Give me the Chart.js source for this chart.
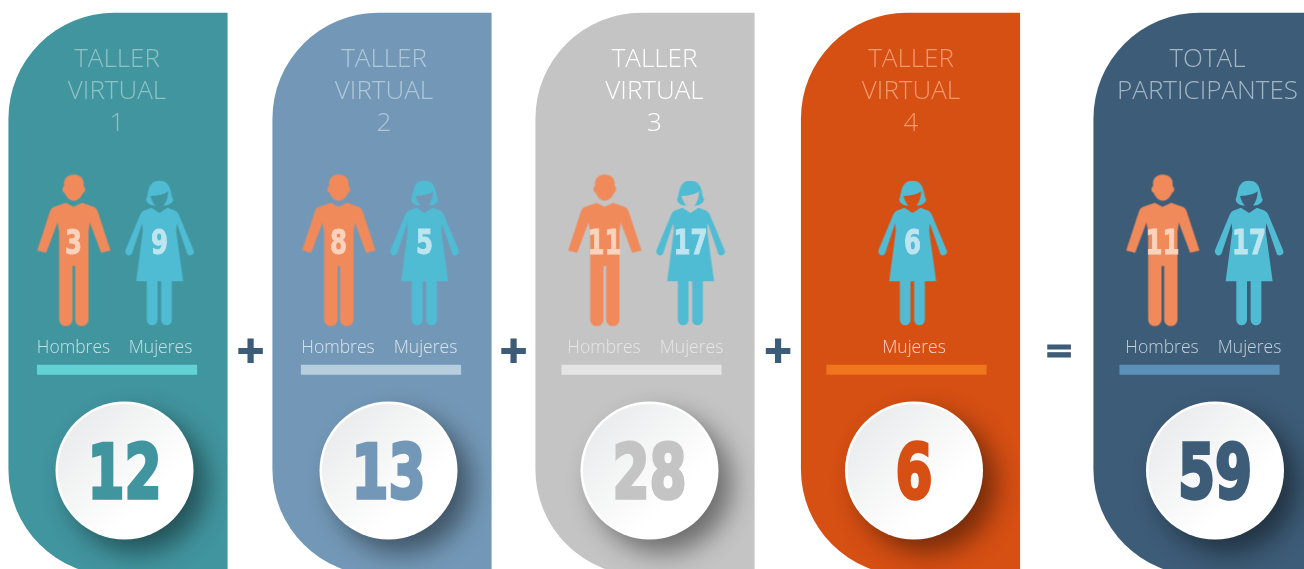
<!DOCTYPE html>
<html>
<head>
<meta charset="utf-8">
<title>Talleres virtuales</title>
<script src="https://cdn.jsdelivr.net/npm/chart.js@4"></script>
<style>
  html, body { margin: 0; padding: 0; background: #fff; }
  canvas { display: block; }
</style>
</head>
<body>
<canvas id="chart" width="1304" height="569"></canvas>
<script>
// DATA
const tituloLinea1 = ['TALLER', 'TALLER', 'TALLER', 'TALLER', 'TOTAL'];
const tituloLinea2 = ['VIRTUAL', 'VIRTUAL', 'VIRTUAL', 'VIRTUAL', 'PARTICIPANTES'];
const tituloLinea3 = ['1', '2', '3', '4', ''];
const hombres = [3, 8, 11, null, 11];
const mujeres = [9, 5, 17, 6, 17];
const totales = [12, 13, 28, 6, 59];
const operadores = ['+', '+', '+', '='];

// LAYOUT (x and y axes run in page pixels)
const panelX = [118, 382, 645, 910.5, 1203];
const tituloX = [117, 384, 654.5, 911, 1207.5];
const manX = [73.5, 338.5, 604.5, null, 1162.5];
const womanX = [159.5, 424.5, 690.5, 912.5, 1249];
const bandaX = [117, 381, 641.5, 906.5, 1199.5];
const circuloX = [124.5, 388.5, 649.5, 914, 1215];
const operadorX = [250.5, 513.5, 778, 1059];
const hombresLabelX = [73.5, 338, 604, null, 1162];
const mujeresLabelX = [160.5, 425.5, 691.5, 914, 1249.5];

// COLORS
const panelColor = ['#41959f', '#7398b7', '#c4c4c4', '#d64f13', '#3d5c77'];
const bandaColor = ['#62d2d5', '#b5cddc', '#e4e4e4', '#f0761e', '#5c90b8'];
const tituloColor = ['#8fc2c6', '#b0c7d8', '#ffffff', '#f19a6f', '#a3b6c6'];
const subColor = ['#c5e0e3', '#d8e3ec', '#e6e6e6', '#f6d3c2', '#c5d1db'];
const navy = '#3d5c77';
const manColor = '#f08a5a';
const womanColor = '#4fbcd4';
const manNumColor = '#fbd2bc';
const womanNumColor = '#bde5ef';

const sansFont = '"Open Sans", "Noto Sans", sans-serif';
const numFont = '"DejaVu Sans", sans-serif';

// --- FIGURES (outlines traced at 3x, then drawn to small canvases for pointStyle) ---
function makeIcon(cx, cy, color, trace) {
    const c = document.createElement('canvas');
    c.width = 90;
    c.height = 170;
    const g = c.getContext('2d');
    g.translate(45, 85);
    g.scale(1 / 3, 1 / 3);
    g.translate(-cx, -cy);
    g.fillStyle = color;
    trace(g);
    return c;
}

const manIcon = makeIcon(160, 255.5, manColor, g => {
    // head
    g.beginPath();
    g.moveTo(132, 62);
    g.bezierCurveTo(128, 38, 145, 28, 160, 28);
    g.bezierCurveTo(178, 28, 194, 38, 190, 62);
    g.bezierCurveTo(197, 68, 197, 80, 189, 83);
    g.bezierCurveTo(182, 98, 172, 107, 161, 107);
    g.bezierCurveTo(150, 107, 140, 98, 133, 83);
    g.bezierCurveTo(125, 80, 125, 68, 132, 62);
    g.closePath();
    g.fill();
    // body, arms and legs
    g.beginPath();
    g.moveTo(137, 113);
    g.lineTo(160, 125);
    g.lineTo(186, 113);
    g.lineTo(222, 126);
    g.quadraticCurveTo(230, 130, 233, 140);
    g.lineTo(271, 256);
    g.lineTo(243, 263);
    g.lineTo(209, 172);
    g.lineTo(205, 200);
    g.lineTo(205, 462);
    g.arc(185, 463, 20, 0, Math.PI);
    g.lineTo(165, 303);
    g.lineTo(157, 303);
    g.lineTo(157, 463);
    g.arc(137, 463, 20, 0, Math.PI);
    g.lineTo(117, 200);
    g.lineTo(112, 172);
    g.lineTo(78, 263);
    g.lineTo(51, 256);
    g.lineTo(89, 140);
    g.quadraticCurveTo(92, 130, 100, 126);
    g.closePath();
    g.fill();
});

const womanIcon = makeIcon(418, 270, womanColor, g => {
    // hair, the face stays open
    g.beginPath();
    g.moveTo(406, 125);
    g.bezierCurveTo(392, 125, 378, 118, 378, 106);
    g.bezierCurveTo(386, 92, 380, 50, 418, 50);
    g.bezierCurveTo(456, 50, 450, 92, 459, 106);
    g.bezierCurveTo(458, 118, 444, 125, 430, 125);
    g.bezierCurveTo(438, 115, 444, 100, 444, 82);
    g.bezierCurveTo(430, 92, 410, 96, 391, 96);
    g.bezierCurveTo(394, 108, 399, 118, 406, 125);
    g.closePath();
    g.fill();
    // dress and arms
    g.beginPath();
    g.moveTo(394, 131);
    g.lineTo(418, 147);
    g.lineTo(442, 131);
    g.lineTo(466, 140);
    g.quadraticCurveTo(472, 143, 476, 152);
    g.lineTo(520, 258);
    g.arc(510, 263, 11, -0.4, 2.4);
    g.lineTo(470, 178);
    g.lineTo(468, 200);
    g.lineTo(489, 352);
    g.lineTo(455, 352);
    g.lineTo(455, 467);
    g.arc(439, 468, 16, 0, Math.PI);
    g.lineTo(423, 352);
    g.lineTo(412, 352);
    g.lineTo(412, 467);
    g.arc(396, 468, 16, 0, Math.PI);
    g.lineTo(380, 352);
    g.lineTo(348, 352);
    g.lineTo(368, 200);
    g.lineTo(366, 178);
    g.lineTo(336, 268);
    g.arc(326, 263, 11, 0.74, 3.54);
    g.lineTo(360, 152);
    g.quadraticCurveTo(364, 143, 370, 140);
    g.closePath();
    g.fill();
});

// --- DATASETS ---
const manPoints = hombres.map((n, i) => ({ x: manX[i], y: 250.3, n })).filter(p => p.n !== null);
const womanPoints = mujeres.map((n, i) => ({ x: womanX[i], y: 254, n }));
const circlePoints = totales.map((n, i) => ({ x: circuloX[i], y: 470.5, n }));

function circleFill(context) {
    const chart = context.chart;
    if (!context.raw || !chart.scales.x) return '#fff';
    const x = chart.scales.x.getPixelForValue(context.raw.x);
    const y = chart.scales.y.getPixelForValue(context.raw.y);
    if (!isFinite(x) || !isFinite(y)) return '#fff';
    const g = chart.ctx.createLinearGradient(x - 50, y - 50, x + 25, y + 25);
    g.addColorStop(0, '#eaebec');
    g.addColorStop(1, '#ffffff');
    return g;
}

// --- PLUGINS ---
const circleShadow = {
    id: 'circleShadow',
    beforeDatasetDraw(chart, args) {
        if (chart.data.datasets[args.index].label !== 'Borde') return;
        const ctx = chart.ctx;
        ctx.save();
        ctx.shadowColor = 'rgba(0,0,0,0.45)';
        ctx.shadowBlur = 26;
        ctx.shadowOffsetX = 13;
        ctx.shadowOffsetY = 13;
    },
    afterDatasetDraw(chart, args) {
        if (chart.data.datasets[args.index].label === 'Borde') chart.ctx.restore();
    }
};

// condensed heavy digits, close to the poster face of the reference
function heavyText(ctx, text, x, y, size, color, width) {
    ctx.save();
    ctx.translate(x, y);
    ctx.scale(0.72, 1);
    ctx.font = `bold ${size}px ${numFont}`;
    ctx.textAlign = 'center';
    ctx.textBaseline = 'alphabetic';
    ctx.fillStyle = color;
    ctx.strokeStyle = color;
    ctx.lineWidth = width;
    ctx.lineJoin = 'miter';
    ctx.fillText(text, 0, 0);
    ctx.strokeText(text, 0, 0);
    ctx.restore();
}

const textLayer = {
    id: 'textLayer',
    afterDatasetsDraw(chart) {
        const ctx = chart.ctx;
        const sx = v => chart.scales.x.getPixelForValue(v);
        const sy = v => chart.scales.y.getPixelForValue(v);
        ctx.save();
        // titles
        ctx.textAlign = 'center';
        ctx.textBaseline = 'alphabetic';
        ctx.font = `300 26px ${sansFont}`;
        tituloLinea1.forEach((t, i) => {
            ctx.fillStyle = tituloColor[i];
            ctx.fillText(t, sx(tituloX[i]), sy(67));
            ctx.fillText(tituloLinea2[i], sx(tituloX[i]), sy(99));
            ctx.fillText(tituloLinea3[i], sx(tituloX[i]), sy(131));
        });
        // Hombres / Mujeres
        ctx.font = `300 17.5px ${sansFont}`;
        hombres.forEach((n, i) => {
            ctx.fillStyle = subColor[i];
            if (n !== null) ctx.fillText('Hombres', sx(hombresLabelX[i]), sy(353));
            ctx.fillText('Mujeres', sx(mujeresLabelX[i]), sy(353));
        });
        // numbers on the figures
        manPoints.forEach(p => heavyText(ctx, String(p.n), sx(p.x), sy(254), 34, manNumColor, 1));
        womanPoints.forEach(p => heavyText(ctx, String(p.n), sx(p.x), sy(254), 34, womanNumColor, 1));
        // totals in the circles
        circlePoints.forEach((p, i) => heavyText(ctx, String(p.n), sx(p.x), sy(498), 74, panelColor[i], 3.5));
        // operators
        operadores.forEach((op, i) => {
            ctx.font = `bold 36px "DejaVu Sans", sans-serif`;
            ctx.textAlign = 'center';
            ctx.fillStyle = navy;
            ctx.strokeStyle = navy;
            ctx.lineWidth = op === '+' ? 2 : 1;
            ctx.fillText(op, sx(operadorX[i]), sy(362));
            ctx.strokeText(op, sx(operadorX[i]), sy(362));
        });
        ctx.restore();
    }
};

// --- CHART ---
new Chart(document.getElementById('chart').getContext('2d'), {
    type: 'bar',
    data: {
        datasets: [
            {
                label: 'Paneles',
                order: 6,
                data: totales.map((n, i) => ({ x: panelX[i], y: [13, 575] })),
                backgroundColor: panelColor,
                barThickness: 218.5,
                borderSkipped: false,
                borderRadius: { topLeft: 106, bottomLeft: 106, topRight: 0, bottomRight: 0 },
                grouped: false
            },
            {
                label: 'Bandas',
                order: 5,
                data: totales.map((n, i) => ({ x: bandaX[i], y: [365, 374.5] })),
                backgroundColor: bandaColor,
                barThickness: 159.5,
                borderSkipped: false,
                grouped: false
            },
            {
                // white disc that carries the shadow
                type: 'scatter',
                label: 'Borde',
                order: 4,
                data: circlePoints,
                pointRadius: 69,
                pointBorderWidth: 0,
                pointBackgroundColor: '#ffffff'
            },
            {
                type: 'scatter',
                label: 'Total',
                order: 3,
                data: circlePoints,
                pointRadius: 66.5,
                pointBorderWidth: 0,
                pointBackgroundColor: circleFill
            },
            {
                type: 'scatter',
                label: 'Hombres',
                order: 2,
                data: manPoints,
                pointStyle: manIcon
            },
            {
                type: 'scatter',
                label: 'Mujeres',
                order: 1,
                data: womanPoints,
                pointStyle: womanIcon
            }
        ]
    },
    options: {
        responsive: false,
        animation: false,
        events: [],
        layout: { padding: 0, autoPadding: false },
        plugins: { legend: { display: false }, tooltip: { enabled: false } },
        scales: {
            x: { type: 'linear', display: false, offset: false, min: 0, max: 1304 },
            y: { type: 'linear', display: false, min: 0, max: 569, reverse: true }
        }
    },
    plugins: [circleShadow, textLayer]
});
</script>
</body>
</html>
